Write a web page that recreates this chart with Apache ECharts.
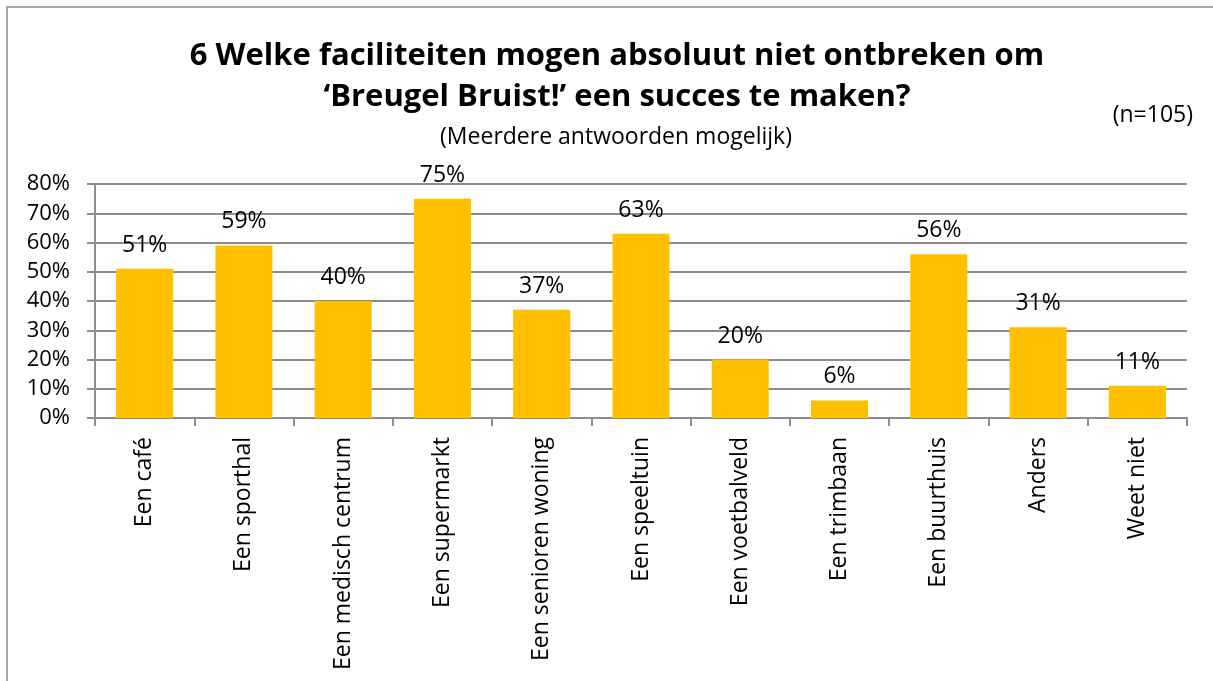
<!DOCTYPE html>
<html>
<head>
<meta charset="utf-8">
<script src="https://cdn.jsdelivr.net/npm/echarts@6/dist/echarts.min.js"></script>
<style>
  html, body { margin: 0; padding: 0; background: #fff; }
  #chart { width: 1213px; height: 681px; }
</style>
</head>
<body>
<div id="chart"></div>
<script>
    // categories + percentages
    var categories = ["Een café", "Een sporthal", "Een medisch centrum", "Een supermarkt", "Een senioren woning",
        "Een speeltuin", "Een voetbalveld", "Een trimbaan", "Een buurthuis", "Anders", "Weet niet"];
    var percents = [51, 59, 40, 75, 37, 63, 20, 6, 56, 31, 11];
    var yTicks = { min: 0, max: 80, step: 10 };

    var font = "'Open Sans', 'Liberation Sans', sans-serif";
    var gridColor = "#8c8c8c";

    var chart = echarts.init(document.getElementById("chart"), null, { renderer: "canvas" });

    var option = {
        backgroundColor: "#fff",
        animation: false,
        title: [
            {
                text: "6 Welke faciliteiten mogen absoluut niet ontbreken om\n‘Breugel Bruist!’ een succes te maken?",
                left: 612, top: 31, textAlign: "center",
                textStyle: { fontFamily: font, fontWeight: "bold", fontSize: 31, lineHeight: 41, color: "#000" }
            },
            {
                text: "(Meerdere antwoorden mogelijk)",
                left: 611, top: 121, textAlign: "center",
                textStyle: { fontFamily: font, fontWeight: "normal", fontSize: 23, color: "#000" }
            },
            {
                text: "(n=105)",
                right: 15, top: 99,
                textStyle: { fontFamily: font, fontWeight: "normal", fontSize: 23, color: "#000" }
            }
        ],
        graphic: [{
            type: "rect",
            shape: { x: 7, y: 7, width: 1230, height: 700 },
            style: { fill: null, stroke: "#8a8a8a", lineWidth: 1.5 },
            silent: true
        }],
        grid: { left: 95, right: 26, top: 184, bottom: 263 },
        xAxis: {
            type: "category",
            data: categories,
            axisLine: { lineStyle: { color: gridColor, width: 2 } },
            axisTick: { show: true, length: 8, lineStyle: { color: gridColor, width: 2 } },
            axisLabel: {
                rotate: 90, margin: 19, interval: 0,
                fontFamily: font, fontSize: 23, color: "#000"
            }
        },
        yAxis: {
            type: "value",
            min: yTicks.min, max: yTicks.max, interval: yTicks.step,
            axisLine: { show: true, lineStyle: { color: gridColor, width: 2 } },
            axisTick: { show: true, length: 8, lineStyle: { color: gridColor, width: 2 } },
            splitLine: { lineStyle: { color: gridColor, width: 2 } },
            axisLabel: {
                formatter: "{value}%", margin: 25,
                fontFamily: font, fontSize: 22, color: "#000"
            }
        },
        series: [{
            type: "bar",
            data: percents,
            barWidth: "57.5%",
            itemStyle: { color: "#FFC000" },
            label: {
                show: true, position: "top", distance: 12,
                formatter: "{c}%",
                fontFamily: font, fontSize: 23, color: "#000"
            }
        }]
    };

    chart.setOption(option);
</script>
</body>
</html>
